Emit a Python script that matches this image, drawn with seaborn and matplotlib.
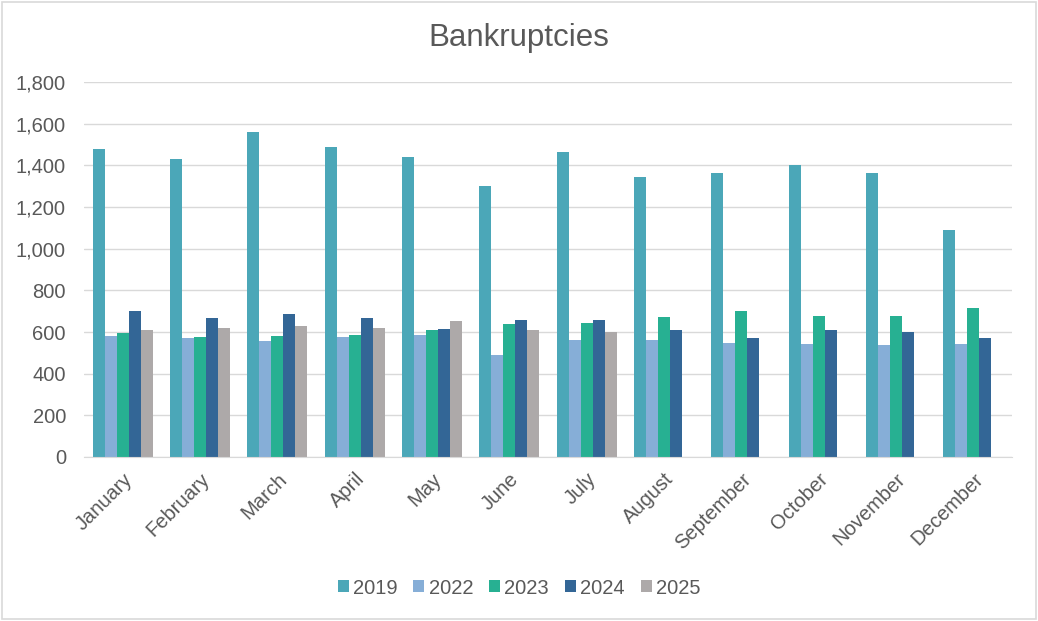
import numpy as np
import pandas as pd
import matplotlib
matplotlib.use("Agg")
import matplotlib.pyplot as plt
import seaborn as sns
from matplotlib.patches import Rectangle
from matplotlib.ticker import FuncFormatter

months = ["January", "February", "March", "April", "May", "June", "July",
          "August", "September", "October", "November", "December"]
years = ["2019", "2022", "2023", "2024", "2025"]

v2019 = [1480, 1430, 1558, 1490, 1441, 1300, 1463, 1346, 1365, 1402, 1362, 1090]
v2022 = [583, 572, 556, 577, 588, 489, 564, 561, 545, 543, 538, 542]
v2023 = [595, 575, 579, 587, 608, 638, 644, 673, 702, 675, 678, 716]
v2024 = [700, 665, 688, 665, 615, 660, 656, 608, 572, 612, 600, 569]
v2025 = [609, 619, 628, 619, 651, 609, 598, np.nan, np.nan, np.nan, np.nan, np.nan]

colors = ["#4BA7B8", "#86AED7", "#27B092", "#336696", "#ADA9A9"]
text_col = "#595959"

df = pd.DataFrame({"month": months, "2019": v2019, "2022": v2022,
                   "2023": v2023, "2024": v2024, "2025": v2025})
long = df.melt(id_vars="month", var_name="year", value_name="count")

sns.set_style("white")
plt.rcParams["font.family"] = ["Liberation Sans", "DejaVu Sans"]

fig = plt.figure(figsize=(10.38, 6.21), dpi=100)
ax = fig.add_axes([84 / 1038, 1 - 457 / 621, (1012 - 84) / 1038, (457 - 82) / 621])

sns.barplot(data=long, x="month", y="count", hue="year", order=months,
            hue_order=years, palette=colors, width=0.78, saturation=1,
            linewidth=0, ax=ax)

ax.set_ylim(0, 1800)
ax.set_yticks(range(0, 1801, 200))
ax.yaxis.set_major_formatter(FuncFormatter(lambda v, p: f"{int(v):,}"))
ax.yaxis.grid(True, color="#D9D9D9", linewidth=1)
ax.set_axisbelow(True)
for s in ["top", "right", "left"]:
    ax.spines[s].set_visible(False)
ax.spines["bottom"].set_color("#D9D9D9")
ax.set_xlabel("")
ax.set_ylabel("")
ax.tick_params(axis="both", length=0, labelsize=14.5, colors=text_col)
ax.tick_params(axis="y", pad=13)
ax.tick_params(axis="x", pad=9)
plt.setp(ax.get_xticklabels(), rotation=45, ha="right", rotation_mode="anchor")

fig.text(0.5, 1 - 38 / 621, "Bankruptcies", fontsize=22.5, color=text_col,
         ha="center", va="center")

ax.legend(loc="center", bbox_to_anchor=(0.5, 1 - 588 / 621),
          bbox_transform=fig.transFigure, ncol=5, frameon=False,
          fontsize=14.5, labelcolor=text_col, handlelength=0.55, handleheight=0.55,
          handletextpad=0.2, columnspacing=0.8)

fig.patches.append(Rectangle((0.002, 0.003), 0.996, 0.994, transform=fig.transFigure,
                             fill=False, edgecolor="#D9D9D9", linewidth=1.2))

fig.savefig("out.png", dpi=100)
